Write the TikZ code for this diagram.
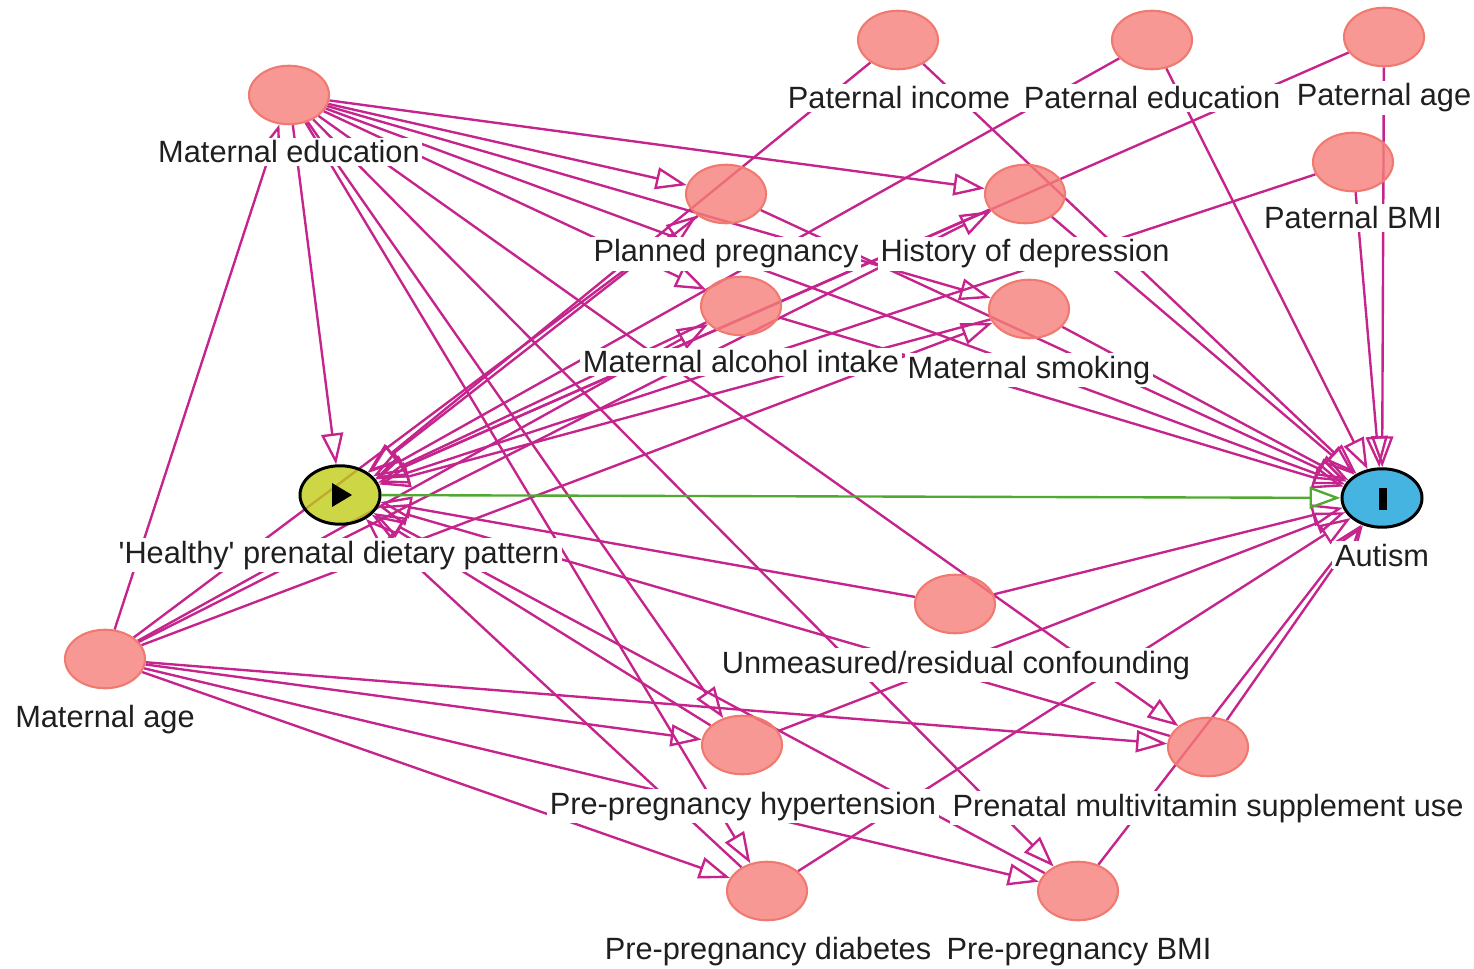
\documentclass[tikz,border=0pt]{standalone}
\usepackage{fontspec}
\setmainfont{Liberation Sans}
\usetikzlibrary{shapes.geometric,arrows.meta}
\definecolor{edgec}{RGB}{196,36,140}
\definecolor{causal}{RGB}{80,170,50}
\definecolor{nodefill}{RGB}{246,126,121}
\definecolor{nodedraw}{RGB}{240,122,112}
\definecolor{expfill}{RGB}{192,205,24}
\definecolor{outfill}{RGB}{24,161,217}
\begin{document}
\begin{tikzpicture}[x=0.02cm,y=-0.02cm,
 shp/.style={ellipse, minimum width=1.6cm, minimum height=1.17cm, inner sep=0pt, line width=1.2pt},
 hold/.style={shp, draw=none, fill=none},
 var/.style={shp, draw=nodedraw, fill=nodefill, fill opacity=0.8},
 expo/.style={shp, draw=black, line width=1.7pt, fill=expfill, fill opacity=0.8},
 outc/.style={shp, draw=black, line width=1.7pt, fill=outfill, fill opacity=0.8},
 lbl/.style={anchor=base, fill=white, inner sep=1.5pt, font=\fontsize{17.5}{21}\selectfont, text=black!88},
 edge/.style={draw=edgec, line width=1.35pt, -{Triangle[open, length=0.62cm, width=0.44cm]}},
 causaledge/.style={edge, draw=causal}]
\useasboundingbox (0,0) rectangle (1474,969);
% anchoring nodes for the connectors
\node[hold] (ME)    at (289,95)   {};
\node[hold] (PInc)  at (898,40)   {};
\node[hold] (PEdu)  at (1152,40)  {};
\node[hold] (PAge)  at (1384,37)  {};
\node[hold] (PBMI)  at (1353,162) {};
\node[hold] (PP)    at (726,194)  {};
\node[hold] (HoD)   at (1025,194) {};
\node[hold] (MAI)   at (741,306)  {};
\node[hold] (MS)    at (1029,309) {};
\node[hold, line width=1.7pt] (E) at (340,495) {};
\node[hold, line width=1.7pt] (A) at (1382,498) {};
\node[hold] (Unm)   at (955,604)  {};
\node[hold] (MA)    at (105,659)  {};
\node[hold] (Hyp)   at (742,745)  {};
\node[hold] (Multi) at (1208,747) {};
\node[hold] (Diab)  at (767,891)  {};
\node[hold] (BMI)   at (1078,891) {};
% edges
\foreach \t in {ME,PP,HoD,MAI,MS,Hyp,Diab,BMI,Multi} \draw[edge] (MA) -- (\t);
\foreach \t in {E,A,PP,HoD,MAI,MS,Hyp,Diab,BMI,Multi} \draw[edge] (ME) -- (\t);
\foreach \s in {PInc,PEdu,PAge,PBMI,PP,HoD,MAI,MS,Unm,Hyp,Diab,BMI,Multi} {
  \draw[edge] (\s) -- (E);
  \draw[edge] (\s) -- (A);
}
\draw[causaledge] (E) -- (A);
% visible ellipses over the connectors (semi-transparent)
\foreach \n in {ME,PInc,PEdu,PAge,PBMI,PP,HoD,MAI,MS,Unm,MA,Hyp,Multi,Diab,BMI}
  \node[var] (v\n) at (\n.center) {};
\node[expo] (vE) at (E.center) {};
\node[outc] (vA) at (A.center) {};
\fill[black] (332,483) -- (332,507) -- (352,495) -- cycle;
\fill[black] (1379,488) rectangle (1387,510);
% labels
\node[lbl] (lME)    at (289,163)  {Maternal education};
\node[lbl] (lPInc)  at (899,109)  {Paternal income};
\node[lbl] (lPEdu)  at (1152,109) {Paternal education};
\node[lbl] (lPAge)  at (1384,106) {Paternal age};
\node[lbl] (lPBMI)  at (1353,229) {Paternal BMI};
\node[lbl] (lPP)    at (726,262)  {Planned pregnancy};
\node[lbl] (lHoD)   at (1025,262) {History of depression};
\node[lbl] (lMAI)   at (741,373)  {Maternal alcohol intake};
\node[lbl] (lMS)    at (1029,378) {Maternal smoking};
\node[lbl] (lE)     at (339,563)  {\textquotesingle Healthy\textquotesingle\ prenatal dietary pattern};
\node[lbl] (lA)     at (1382,566) {Autism};
\node[lbl] (lUnm)   at (956,673)  {Unmeasured/residual confounding};
\node[lbl] (lMA)    at (105,727)  {Maternal age};
\node[lbl] (lHyp)   at (743,814)  {Pre-pregnancy hypertension};
\node[lbl] (lMulti) at (1208,816) {Prenatal multivitamin supplement use};
\node[lbl] (lDiab)  at (768,959)  {Pre-pregnancy diabetes};
\node[lbl] (lBMI)   at (1079,959) {Pre-pregnancy BMI};
\end{tikzpicture}
\end{document}
